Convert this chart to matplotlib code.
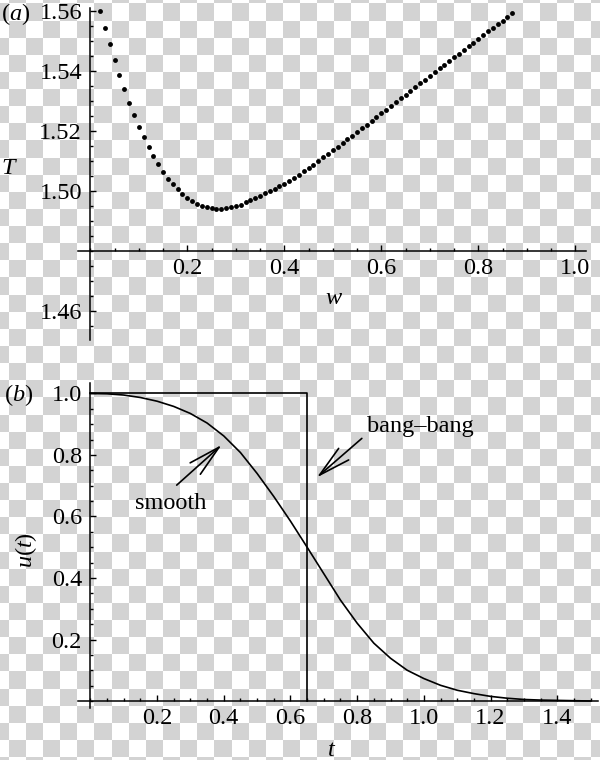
import numpy as np
import matplotlib
matplotlib.use("Agg")
import matplotlib.pyplot as plt
from matplotlib.ticker import MultipleLocator, FixedLocator, FormatStrFormatter

plt.rcParams['font.family'] = ['Liberation Serif', 'DejaVu Serif']
plt.rcParams['mathtext.fontset'] = 'custom'
plt.rcParams['mathtext.rm'] = 'Liberation Serif'
plt.rcParams['mathtext.it'] = 'Liberation Serif:italic'
plt.rcParams['font.size'] = 17.5

# (a) minimum time T against w (dots)
w = np.round(np.arange(2, 88) / 100, 2)
T = [1.5600, 1.5542, 1.5489, 1.5436, 1.5386, 1.5339, 1.5294, 1.5254, 1.5214, 1.5180,
     1.5148, 1.5117, 1.5090, 1.5063, 1.5041, 1.5022, 1.5006, 1.4990, 1.4977, 1.4966,
     1.4958, 1.4950, 1.4946, 1.4942, 1.4940, 1.4940, 1.4942, 1.4946, 1.4949, 1.4954,
     1.4962, 1.4969, 1.4977, 1.4984, 1.4992, 1.4999, 1.5007, 1.5016, 1.5024, 1.5033,
     1.5043, 1.5054, 1.5065, 1.5076, 1.5088, 1.5100, 1.5112, 1.5124, 1.5136, 1.5148,
     1.5160, 1.5172, 1.5184, 1.5196, 1.5209, 1.5221, 1.5234, 1.5246, 1.5259, 1.5271,
     1.5284, 1.5296, 1.5309, 1.5321, 1.5334, 1.5346, 1.5359, 1.5371, 1.5384, 1.5396,
     1.5409, 1.5421, 1.5434, 1.5446, 1.5458, 1.5471, 1.5483, 1.5495, 1.5508, 1.5520,
     1.5532, 1.5544, 1.5556, 1.5568, 1.5580, 1.5594]

# (b) controls u(t)
t_smooth = np.round(np.arange(0, 31) * 0.05, 2)
u_smooth = [1.000, 0.999, 0.995, 0.987, 0.975, 0.958, 0.935, 0.904, 0.862, 0.808,
            0.740, 0.665, 0.585, 0.500, 0.414, 0.328, 0.253, 0.188, 0.139, 0.100,
            0.073, 0.051, 0.035, 0.024, 0.015, 0.009, 0.005, 0.003, 0.002, 0.001, 0.000]
t_bang = [0.0, 0.651, 0.651]
u_bang = [1.0, 1.0, 0.0]

fig = plt.figure(figsize=(6, 7.6), dpi=100)

# transparent-background checkerboard as in the reference image
H, W = 760, 600
yy, xx = np.mgrid[0:H, 0:W]
s = 17.13
chk = ((np.floor((yy - 2.9) / s) + np.floor((xx + 8.8) / s)) % 2 == 0)
bg = np.where(chk, 0.83, 1.0)
fig.figimage(bg, xo=0, yo=0, origin='upper', cmap='gray', vmin=0, vmax=1, zorder=-10)


def style_axes(ax, x0, y0):
    ax.set_facecolor('none')
    ax.spines['top'].set_visible(False)
    ax.spines['right'].set_visible(False)
    ax.spines['left'].set_position(('data', x0))
    ax.spines['bottom'].set_position(('data', y0))
    for sp in ('left', 'bottom'):
        ax.spines[sp].set_linewidth(1.1)
    ax.tick_params(which='both', direction='in', width=1.0)
    ax.tick_params(which='major', length=4, pad=5)
    ax.tick_params(which='minor', length=2.2)
    ax.tick_params(axis='y', which='major', pad=6)


# panel (a)
ax1 = fig.add_axes([0.13, 0.5526, 0.8467, 0.4368])
ax1.plot(w, T, 'o', color='black', ms=3.5, mec='none')
ax1.set_xlim(-0.0254, 1.022)
ax1.set_ylim(1.4503, 1.561)
style_axes(ax1, 0.0, 1.48)
ax1.xaxis.set_major_locator(FixedLocator([0.2, 0.4, 0.6, 0.8, 1.0]))
ax1.xaxis.set_minor_locator(MultipleLocator(0.05))
ax1.xaxis.set_major_formatter(FormatStrFormatter('%.1f'))
ax1.yaxis.set_major_locator(FixedLocator([1.46, 1.50, 1.52, 1.54, 1.56]))
ax1.yaxis.set_minor_locator(MultipleLocator(0.005))
ax1.yaxis.set_major_formatter(FormatStrFormatter('%.2f'))

# panel (b)
ax2 = fig.add_axes([0.13, 0.0684, 0.8667, 0.4276])
ax2.plot(t_bang, u_bang, color='black', lw=1.2)
ax2.plot(t_smooth, u_smooth, color='black', lw=1.2)
ax2.set_xlim(-0.0369, 1.522)
ax2.set_ylim(-0.0228, 1.034)
style_axes(ax2, 0.0, 0.0)
ax2.xaxis.set_major_locator(FixedLocator([0.2, 0.4, 0.6, 0.8, 1.0, 1.2, 1.4]))
ax2.xaxis.set_minor_locator(MultipleLocator(0.05))
ax2.xaxis.set_major_formatter(FormatStrFormatter('%.1f'))
ax2.yaxis.set_major_locator(FixedLocator([0.2, 0.4, 0.6, 0.8, 1.0]))
ax2.yaxis.set_minor_locator(MultipleLocator(0.05))
ax2.yaxis.set_major_formatter(FormatStrFormatter('%.1f'))

arrow = dict(arrowstyle='->,head_length=2.3,head_width=0.55', color='black',
             lw=1.2, shrinkA=0, shrinkB=0, mutation_scale=10)
ax2.annotate('', xy=(0.394, 0.833), xytext=(0.259, 0.702), arrowprops=arrow)
ax2.annotate('', xy=(0.679, 0.727), xytext=(0.814, 0.854), arrowprops=arrow)
ax2.text(0.24, 0.643, 'smooth', ha='center', va='center')
ax2.text(0.989, 0.892, 'bang\u2013bang', ha='center', va='center')

# labels in figure pixel coordinates
def fig_text(px, py, txt, **kw):
    fig.text(px / W, 1 - py / H, txt, ha='center', va='center', **kw)

fig_text(16, 14, '($a$)')
fig_text(19, 395, '($b$)')
fig_text(9, 168, '$T$')
fig_text(334, 299, '$w$')
fig_text(26, 550, '$u(t)$', rotation=90)
fig_text(332, 750, '$t$')

fig.savefig('out.png', dpi=100)
